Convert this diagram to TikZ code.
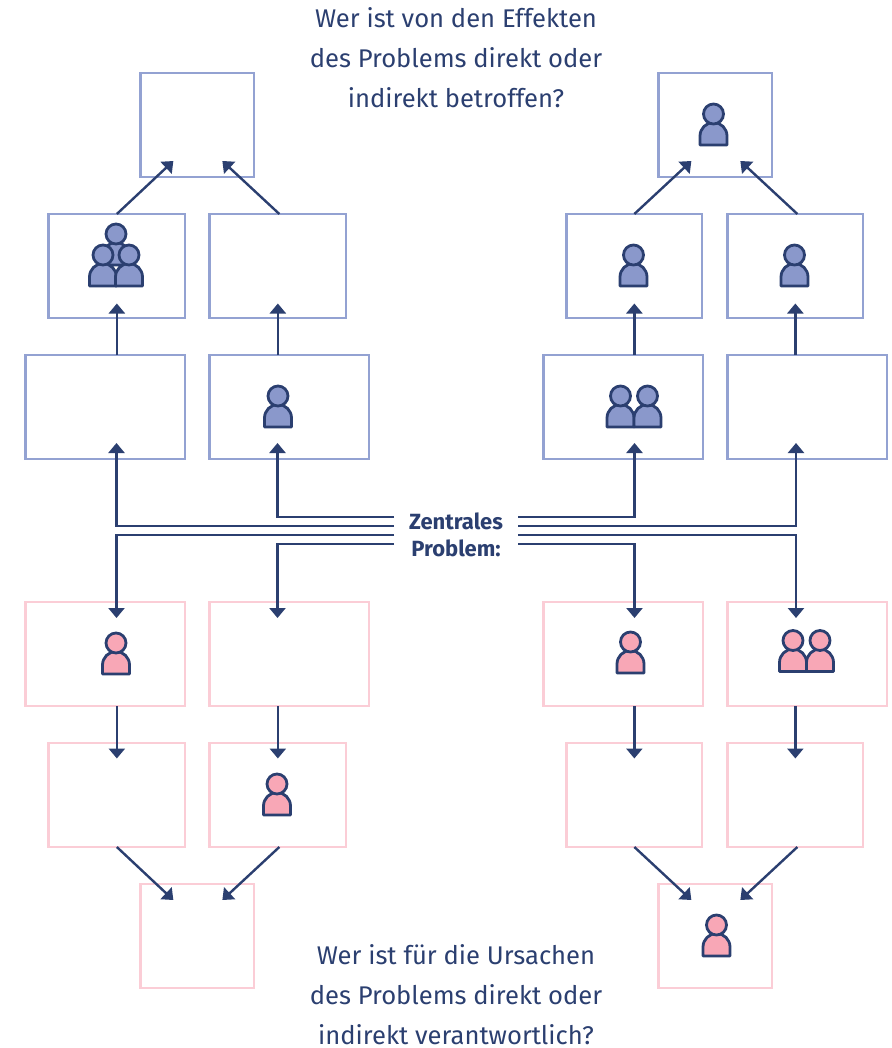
\documentclass[tikz,border=0pt]{standalone}
\usepackage{fontspec}
\setmainfont{Fira Sans}
\usetikzlibrary{arrows.meta,calc}
\definecolor{navy}{HTML}{2B3F70}
\definecolor{bluefill}{HTML}{8A98CB}
\definecolor{blueline}{HTML}{93A2D2}
\definecolor{pinkfill}{HTML}{F8A7B6}
\definecolor{pinkline}{HTML}{FBCDD6}
\tikzset{
  x=1pt,y=-1pt,
  box/.style={draw,line width=2.4pt,fill=white,inner sep=0pt,outer sep=0pt,anchor=north west},
  bluebox/.style={box,draw=blueline},
  pinkbox/.style={box,draw=pinkline},
  arr/.style={draw=navy,line width=2.4pt,-{Triangle[length=10pt,width=16pt]}},
  heading/.style={text=navy,font=\fontsize{25.6}{40}\selectfont,align=center,inner sep=0pt},
  central/.style={text=navy,font=\fontsize{22}{27}\bfseries\selectfont,align=center,inner sep=0pt},
  pics/person/.style={code={
    \draw[draw=navy,line width=2.8pt,fill=#1,line join=round]
      (-13.5,0) -- (-13.5,-9) arc[start angle=180,end angle=0,x radius=13.5,y radius=-13.5] -- (13.5,0) -- cycle;
    \draw[draw=navy,line width=2.8pt,fill=#1] (0,-31) circle[radius=10];
  }},
}
\newcommand{\boxat}[6]{\node[#1,minimum width=#5-#3-0.5,minimum height=#6-#4] (#2) at (#3+0.6,#4) {};}
\begin{document}
\begin{tikzpicture}
\useasboundingbox (0,0) rectangle (891,1048);
% boxes
\boxat{bluebox}{TL}{140}{73}{254}{177}
\boxat{bluebox}{TR}{658}{73}{772}{177}
\boxat{bluebox}{Ba}{48}{214}{185}{318}
\boxat{bluebox}{Bb}{209}{214}{346}{318}
\boxat{bluebox}{Bc}{566}{214}{702}{318}
\boxat{bluebox}{Bd}{727}{214}{863}{318}
\boxat{bluebox}{Ca}{25}{355}{185}{459}
\boxat{bluebox}{Cb}{209}{355}{369}{459}
\boxat{bluebox}{Cc}{543}{355}{703}{459}
\boxat{bluebox}{Cd}{727}{355}{887}{459}
\boxat{pinkbox}{Pa}{25}{602}{185}{706}
\boxat{pinkbox}{Pb}{209}{602}{369}{706}
\boxat{pinkbox}{Pc}{543}{602}{703}{706}
\boxat{pinkbox}{Pd}{727}{602}{887}{706}
\boxat{pinkbox}{Qa}{48}{743}{185}{847}
\boxat{pinkbox}{Qb}{209}{743}{346}{847}
\boxat{pinkbox}{Qc}{566}{743}{702}{847}
\boxat{pinkbox}{Qd}{727}{743}{863}{847}
\boxat{pinkbox}{BL}{140}{884}{254}{988}
\boxat{pinkbox}{BR}{658}{884}{772}{988}
% texts
\node[heading] (h1) at (456,58) {Wer ist von den Effekten\\des Problems direkt oder\\indirekt betroffen?};
\node[heading] (h2) at (456,995) {Wer ist für die Ursachen\\des Problems direkt oder\\indirekt verantwortlich?};
\node[central] (zp) at (456,535) {Zentrales\\Problem:};
% people
\pic at (713.5,145) {person=bluefill};
\pic at (116,265) {person=bluefill};
\pic at (103,286) {person=bluefill};
\pic at (129,286) {person=bluefill};
\pic at (633.5,286) {person=bluefill};
\pic at (794.5,286) {person=bluefill};
\pic at (278,427) {person=bluefill};
\pic at (620.5,427) {person=bluefill};
\pic at (647.5,427) {person=bluefill};
\pic at (116,674) {person=pinkfill};
\pic at (630.5,673) {person=pinkfill};
\pic at (793,671.5) {person=pinkfill};
\pic at (820,671.5) {person=pinkfill};
\pic at (277,815) {person=pinkfill};
\pic at (716.5,956) {person=pinkfill};
% central ports
\foreach \n/\y in {1/517,2/526,3/535,4/544}{
  \coordinate (zl\n) at (394,\y);
  \coordinate (zr\n) at (518,\y);
}
% tips from central lines
\coordinate (tCa) at (116.5,443);
\coordinate (tCb) at (277.5,443);
\coordinate (tCc) at (634.5,443);
\coordinate (tCd) at (796,443);
\coordinate (tPa) at (116.5,618);
\coordinate (tPb) at (277.5,618);
\coordinate (tPc) at (634.5,618);
\coordinate (tPd) at (796,618);
\draw[arr] (zl2) -| (tCa);
\draw[arr] (zl1) -| (tCb);
\draw[arr] (zr1) -| (tCc);
\draw[arr] (zr2) -| (tCd);
\draw[arr] (zl3) -| (tPa);
\draw[arr] (zl4) -| (tPb);
\draw[arr] (zr4) -| (tPc);
\draw[arr] (zr3) -| (tPd);
% verticals upper
\draw[arr] (Ba.south |- Ca.north) -- ($(Ba.south)+(0,-14.5)$);
\draw[arr] (Bb.south |- Cb.north) -- ($(Bb.south)+(0,-14.5)$);
\draw[arr] (Bc.south |- Cc.north) -- ($(Bc.south)+(0,-14.5)$);
\draw[arr] (Bd.south |- Cd.north) -- ($(Bd.south)+(0,-14.5)$);
% verticals lower
\draw[arr] (Qa.north |- Pa.south) -- ($(Qa.north)+(0,15.5)$);
\draw[arr] (Qb.north |- Pb.south) -- ($(Qb.north)+(0,15.5)$);
\draw[arr] (Qc.north |- Pc.south) -- ($(Qc.north)+(0,15.5)$);
\draw[arr] (Qd.north |- Pd.south) -- ($(Qd.north)+(0,15.5)$);
% diagonals top
\draw[arr] (Ba.north) -- ($(TL.south)+(-24,-16)$);
\draw[arr] ($(Bb.north)+(1.5,0)$) -- ($(TL.south)+(25,-16)$);
\draw[arr] (Bc.north) -- ($(TR.south)+(-24,-16)$);
\draw[arr] ($(Bd.north)+(2,0)$) -- ($(TR.south)+(25,-16)$);
% diagonals bottom
\draw[arr] (Qa.south) -- ($(BL.north)+(-24,16)$);
\draw[arr] ($(Qb.south)+(1.5,0)$) -- ($(BL.north)+(25,16)$);
\draw[arr] (Qc.south) -- ($(BR.north)+(-24,16)$);
\draw[arr] ($(Qd.south)+(2,0)$) -- ($(BR.north)+(25,16)$);
\end{tikzpicture}
\end{document}
